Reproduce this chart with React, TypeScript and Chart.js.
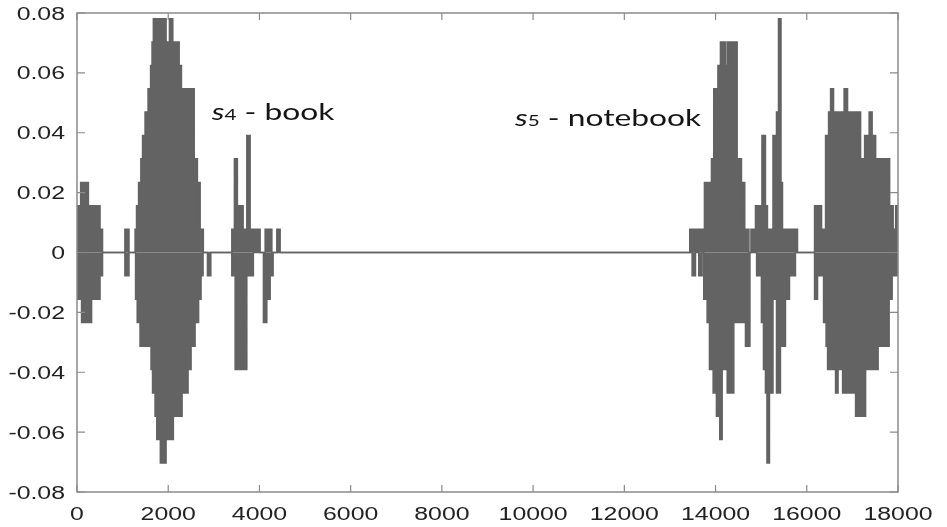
import React, { useEffect, useRef } from 'react';
import { Chart, registerables } from 'chart.js';

Chart.register(...registerables);

// Waveform envelope (min/max of the samples), as step breakpoints: value holds until next x
const upperX = [
  0, 80, 250, 505, 560,
  1050, 1140,
  1273, 1305, 1350, 1400, 1437, 1492, 1558, 1613, 1645, 1674, 1953, 2026, 2100, 2188, 2210, 2240, 2290, 2570, 2640, 2700, 2770,
  3394, 3451, 3517, 3642, 3723, 3796, 4015, 4125, 4272, 4381, 4454,
  13434, 13756, 13910, 13960, 14052, 14107, 14228, 14267, 14474, 14568, 14640, 14732,
  14776, 14875, 15017, 15094, 15138, 15259, 15336, 15380, 15435, 15468, 15797,
  16170, 16324, 16412, 16478, 16522, 16587, 16818, 16894, 17180, 17268, 17367, 17433, 17510, 17817, 17894, 17949, 18000,
];
const upperY = [
  0.0156, 0.0234, 0.0156, 0.0078, 0,
  0.0078, 0,
  0.0078, 0.0156, 0.0234, 0.0313, 0.0391, 0.0469, 0.0547, 0.0625, 0.0703, 0.0781, 0.0703, 0.0781, 0.0703, 0.0625, 0.0703, 0.0625, 0.0547, 0.0313, 0.0234, 0.0078, 0,
  0.0078, 0.0313, 0.0156, 0.0078, 0.0391, 0.0078, 0, 0.0078, 0, 0.0078, 0,
  0.0078, 0.0234, 0.0313, 0.0547, 0.0625, 0.0703, 0.0625, 0.0703, 0.0313, 0.0234, 0.0078, 0,
  0.0078, 0.0156, 0.0391, 0.0156, 0.0078, 0.0391, 0.0469, 0.0781, 0.0234, 0.0078, 0,
  0.0156, 0.0078, 0.0391, 0.0469, 0.0547, 0.0469, 0.0547, 0.0469, 0.0313, 0.0391, 0.0469, 0.0391, 0.0313, 0.0156, 0.0078, 0.0156, 0.0156,
];
const lowerX = [
  0, 100, 320, 505, 560,
  1050, 1140,
  1284, 1320, 1382, 1623, 1656, 1711, 1749, 1827, 1953, 2113, 2304, 2435, 2501, 2589, 2666, 2720, 2764,
  2860, 2934,
  3394, 3467, 3723, 3867, 4087, 4162, 4235, 4300,
  13486, 13560, 13632, 13705, 13741, 13815, 13866, 13947, 14019, 14092, 14145, 14255, 14400, 14656, 14754,
  14900, 15005, 15050, 15094, 15127, 15182, 15259, 15336, 15423, 15533, 15621, 15752,
  16170, 16236, 16368, 16423, 16456, 16631, 16686, 16785, 17070, 17290, 17564, 17806, 17872, 18000,
];
const lowerY = [
  -0.0156, -0.0234, -0.0156, -0.0078, 0,
  -0.0078, 0,
  -0.0156, -0.0234, -0.0313, -0.0391, -0.0469, -0.0547, -0.0625, -0.0703, -0.0625, -0.0547, -0.0469, -0.0391, -0.0313, -0.0234, -0.0156, -0.0078, 0,
  -0.0078, 0,
  -0.0078, -0.0391, -0.0078, 0, -0.0234, -0.0156, -0.0078, 0,
  -0.0078, 0, -0.0078, 0, -0.0156, -0.0234, -0.0391, -0.0469, -0.0547, -0.0625, -0.0391, -0.0469, -0.0234, -0.0313, 0,
  -0.0078, -0.0234, -0.0391, -0.0469, -0.0703, -0.0469, -0.0156, -0.0469, -0.0313, -0.0156, -0.0078, 0,
  -0.0156, -0.0078, -0.0234, -0.0313, -0.0391, -0.0469, -0.0391, -0.0469, -0.0547, -0.0391, -0.0313, -0.0156, -0.0078, -0.0078,
];

const xTicks = [0, 2000, 4000, 6000, 8000, 10000, 12000, 14000, 16000, 18000];
const xTickLabels = ['0', '2000', '4000', '6000', '8000', '10000', '12000', '14000', '16000', '18000'];
const yTicks = [-0.08, -0.06, -0.04, -0.02, 0, 0.02, 0.04, 0.06, 0.08];
const yTickLabels = ['-0.08', '-0.06', '-0.04', '-0.02', '0', '0.02', '0.04', '0.06', '0.08'];

const noteSymbols = ['s', 's'];
const noteSubs = ['4', '5'];
const noteTexts = [' - book', ' - notebook'];
const noteX = [2955, 9603];
const noteY = [0.0444, 0.0421];

const WAVE = '#636363';
const FRAME = '#8a8a8a';
const STRETCH = 1.38;

function drawStretched(ctx: CanvasRenderingContext2D, text: string, x: number, y: number, align: CanvasTextAlign) {
  ctx.save();
  ctx.translate(x, y);
  ctx.scale(STRETCH, 1);
  ctx.textAlign = align;
  ctx.fillText(text, 0, 0);
  ctx.restore();
}

const framePlugin = {
  id: 'framePlugin',
  afterDatasetsDraw(chart: any) {
    const { ctx, chartArea: a, scales } = chart;
    const xs = scales.x;
    const ys = scales.y;
    ctx.save();
    ctx.strokeStyle = FRAME;
    ctx.lineWidth = 1.5;
    ctx.strokeRect(a.left, a.top, a.right - a.left, a.bottom - a.top);
    ctx.lineWidth = 1.2;
    ctx.beginPath();
    xTicks.forEach((v) => {
      const px = xs.getPixelForValue(v);
      ctx.moveTo(px, a.bottom);
      ctx.lineTo(px, a.bottom - 7);
      ctx.moveTo(px, a.top);
      ctx.lineTo(px, a.top + 7);
    });
    yTicks.forEach((v) => {
      const py = ys.getPixelForValue(v);
      ctx.moveTo(a.left, py);
      ctx.lineTo(a.left + 8, py);
      ctx.moveTo(a.right, py);
      ctx.lineTo(a.right - 8, py);
    });
    ctx.stroke();

    ctx.fillStyle = '#222222';
    ctx.font = '18px "Liberation Sans", Arial, sans-serif';
    ctx.textBaseline = 'alphabetic';
    xTicks.forEach((v, i) => {
      drawStretched(ctx, xTickLabels[i], xs.getPixelForValue(v), a.bottom + 28, 'center');
    });
    yTicks.forEach((v, i) => {
      drawStretched(ctx, yTickLabels[i], a.left - 12, ys.getPixelForValue(v) + 6.5, 'right');
    });

    ctx.fillStyle = '#151515';
    noteSymbols.forEach((sym, i) => {
      let x = xs.getPixelForValue(noteX[i]);
      const y = ys.getPixelForValue(noteY[i]);
      ctx.font = 'italic 23px Lato, "Open Sans", sans-serif';
      drawStretched(ctx, sym, x, y, 'left');
      x += ctx.measureText(sym).width * STRETCH;
      ctx.font = '15px Lato, "Open Sans", sans-serif';
      drawStretched(ctx, noteSubs[i], x, y, 'left');
      x += ctx.measureText(noteSubs[i]).width * STRETCH;
      ctx.font = '23px Lato, "Open Sans", sans-serif';
      drawStretched(ctx, noteTexts[i], x, y, 'left');
    });
    ctx.restore();
  },
};

export default function App() {
  const ref = useRef<HTMLCanvasElement | null>(null);
  useEffect(() => {
    if (!ref.current) return;
    const common = {
      stepped: true,
      fill: 'origin',
      borderColor: WAVE,
      backgroundColor: WAVE,
      borderWidth: 1.5,
      pointRadius: 0,
      tension: 0,
    };
    const chart = new Chart(ref.current, {
      type: 'line',
      data: {
        datasets: [
          { ...common, label: 'upper', data: upperX.map((x, i) => ({ x, y: upperY[i] })) },
          { ...common, label: 'lower', data: lowerX.map((x, i) => ({ x, y: lowerY[i] })) },
        ],
      } as any,
      options: {
        animation: false,
        responsive: false,
        events: [],
        layout: { padding: { left: 77, top: 13, right: 49, bottom: 35 } },
        plugins: { legend: { display: false }, tooltip: { enabled: false } },
        scales: {
          x: {
            type: 'linear',
            min: 0,
            max: 18000,
            ticks: { display: false },
            grid: { display: false, drawTicks: false },
            border: { display: false },
          },
          y: {
            type: 'linear',
            min: -0.08,
            max: 0.08,
            ticks: { display: false },
            grid: { display: false, drawTicks: false },
            border: { display: false },
          },
        },
      } as any,
      plugins: [framePlugin],
    });
    return () => chart.destroy();
  }, []);
  return (
    <div style={{ position: 'fixed', left: 0, top: 0, width: 947, height: 527, background: '#ffffff' }}>
      <canvas ref={ref} width={947} height={527} style={{ display: 'block' }} />
    </div>
  );
}
